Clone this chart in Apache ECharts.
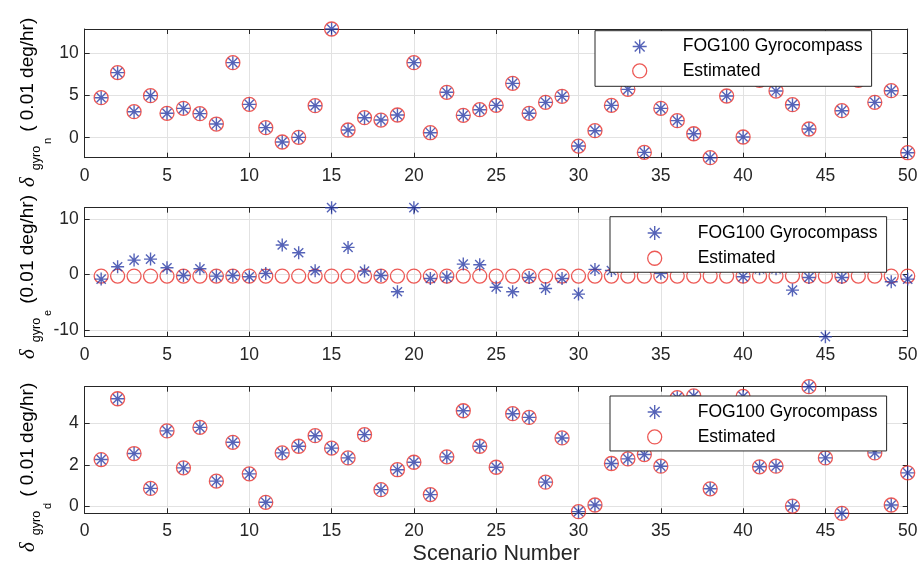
<!DOCTYPE html>
<html>
<head>
<meta charset="utf-8">
<script src="https://cdn.jsdelivr.net/npm/echarts@6/dist/echarts.min.js"></script>
<style>
  html, body { margin: 0; padding: 0; background: #fff; }
  #chart { width: 923px; height: 570px; }
</style>
</head>
<body>
<div id="chart"></div>
<script>
const scenarios = [1, 2, 3, 4, 5, 6, 7, 8, 9, 10, 11, 12, 13, 14, 15, 16, 17, 18, 19, 20, 21, 22, 23, 24, 25,
  26, 27, 28, 29, 30, 31, 32, 33, 34, 35, 36, 37, 38, 39, 40, 41, 42, 43, 44, 45, 46, 47, 48, 49, 50];

// north gyro bias
const fogN = [4.74, 7.71, 3.08, 4.98, 2.89, 3.48, 2.85, 1.62, 8.89, 3.95, 1.19, -0.51, 0.04, 3.79, 12.88,
  0.91, 2.37, 2.09, 2.69, 8.89, 0.59, 5.38, 2.65, 3.32, 3.83, 6.44, 2.89, 4.19, 4.90, -0.99, 0.83, 3.83,
  5.73, -1.74, 3.48, 2.02, 0.47, -2.37, 4.94, 0.08, 6.8, 5.53, 3.91, 1.03, 7.5, 3.2, 6.8, 4.19, 5.57, -1.78];
const estN = [4.74, 7.71, 3.08, 4.98, 2.89, 3.48, 2.85, 1.62, 8.89, 3.95, 1.19, -0.51, 0.04, 3.79, 12.88,
  0.91, 2.37, 2.09, 2.69, 8.89, 0.59, 5.38, 2.65, 3.32, 3.83, 6.44, 2.89, 4.19, 4.90, -0.99, 0.83, 3.83,
  5.73, -1.74, 3.48, 2.02, 0.47, -2.37, 4.94, 0.08, 6.8, 5.53, 3.91, 1.03, 7.5, 3.2, 6.8, 4.19, 5.57, -1.78];

// east gyro bias
const fogE = [-0.84, 1.38, 2.58, 2.76, 1.2, -0.18, 1.02, -0.3, -0.18, -0.42, 0.18, 5.29, 3.9, 0.66, 12.0,
  4.86, 0.6, -0.18, -3.12, 12.0, -0.72, -0.48, 1.86, 1.75, -2.3, -3.12, -0.54, -2.52, -0.72, -3.54, 0.9, 0.7,
  2.2, 1.8, 0.2, 2.5, 1.6, 2.0, 1.7, -0.42, 1.0, 1.0, -2.82, -0.54, -11.2, -0.54, 2.0, 1.8, -1.32, -0.84];
const estE = [-0.3, -0.3, -0.3, -0.3, -0.3, -0.3, -0.3, -0.3, -0.3, -0.3, -0.3, -0.3, -0.3, -0.3, -0.3,
  -0.3, -0.3, -0.3, -0.3, -0.3, -0.3, -0.3, -0.3, -0.3, -0.3, -0.3, -0.3, -0.3, -0.3, -0.3, -0.3, -0.3,
  -0.3, -0.3, -0.3, -0.3, -0.3, -0.3, -0.3, -0.3, -0.3, -0.3, -0.3, -0.3, -0.3, -0.3, -0.3, -0.3, -0.3, -0.3];

// down gyro bias
const fogD = [2.27, 5.2, 2.56, 0.88, 3.65, 1.87, 3.82, 1.23, 3.1, 1.58, 0.21, 2.59, 2.91, 3.42, 2.82,
  2.35, 3.47, 0.82, 1.78, 2.14, 0.58, 2.4, 4.62, 2.91, 1.9, 4.48, 4.3, 1.18, 3.31, -0.24, 0.08, 2.08,
  2.3, 2.51, 1.95, 5.25, 5.34, 0.86, 4.0, 5.31, 1.92, 1.95, 0.03, 5.78, 2.35, -0.32, 3.5, 2.59, 0.08, 1.63];
const estD = [2.27, 5.2, 2.56, 0.88, 3.65, 1.87, 3.82, 1.23, 3.1, 1.58, 0.21, 2.59, 2.91, 3.42, 2.82,
  2.35, 3.47, 0.82, 1.78, 2.14, 0.58, 2.4, 4.62, 2.91, 1.9, 4.48, 4.3, 1.18, 3.31, -0.24, 0.08, 2.08,
  2.3, 2.51, 1.95, 5.25, 5.34, 0.86, 4.0, 5.31, 1.92, 1.95, 0.03, 5.78, 2.35, -0.32, 3.5, 2.59, 0.08, 1.63];

const yTicksN = [0, 5, 10];
const yTicksE = [-10, 0, 10];
const yTicksD = [0, 2, 4];
const seriesNames = ["FOG100 Gyrocompass", "Estimated"];
const xName = "Scenario Number";
const unitN = "( 0.01 deg/hr)";
const unitE = "(0.01 deg/hr)";
const unitD = "( 0.01 deg/hr)";

(function () {
  const chart = echarts.init(document.getElementById("chart"));
  const sans = "'Liberation Sans', Arial, Helvetica, sans-serif";
  const serif = "'Liberation Serif', 'DejaVu Serif', serif";
  const axisColor = "#262626";
  const gridColor = "#e2e2e2";
  const blue = "#2a3ca6";
  const red = "#e8302a";
  const star = "path://M0,-10L0,10M-10,0L10,0M-7.07,-7.07L7.07,7.07M-7.07,7.07L7.07,-7.07";

  const panels = [
    { fog: fogN, est: estN, ticks: yTicksN, sub: "n", unit: unitN, top: 29, height: 128.7, labelEnd: 187,
      legendLeft: 595, legendTop: 30.7, pad: [6.75, 9, 6.35, 37], gap: 6.5 },
    { fog: fogE, est: estE, ticks: yTicksE, sub: "e", unit: unitE, top: 207.7, height: 129, labelEnd: 359,
      legendLeft: 610, legendTop: 216.7, pad: [7.35, 9, 5, 37], gap: 7.2 },
    { fog: fogD, est: estD, ticks: yTicksD, sub: "d", unit: unitD, top: 386.7, height: 126.6, labelEnd: 552,
      legendLeft: 610, legendTop: 396, pad: [7.05, 9, 5, 37], gap: 6.9 }
  ];

  const measureCtx = document.createElement("canvas").getContext("2d");
  function textWidth(text, size, family, style) {
    measureCtx.font = (style || "normal") + " " + size + "px " + family;
    return measureCtx.measureText(text).width;
  }

  // rotated y label: delta with nested subscripts, then the unit
  function yLabel(p) {
    const pieces = [
      { text: "δ", size: 21, family: serif, style: "italic", dy: 0, gap: 7 },
      { text: "gyro", size: 12.5, family: sans, style: "normal", dy: 8.5, gap: 2 },
      { text: p.sub, size: 11, family: sans, style: "normal", dy: 20, gap: 6 },
      { text: p.unit, size: 19, family: sans, style: "normal", dy: 0, gap: 0 }
    ];
    let pos = 0;
    const children = pieces.map(function (pc) {
      const el = {
        type: "text", x: pos, y: pc.dy,
        style: {
          text: pc.text, fontSize: pc.size, fontFamily: pc.family, fontStyle: pc.style,
          fill: "#000", align: "left", verticalAlign: "middle"
        }
      };
      pos += textWidth(pc.text, pc.size, pc.family, pc.style) + pc.gap;
      return el;
    });
    return { type: "group", x: 28, y: p.labelEnd, rotation: Math.PI / 2, silent: true, children: children };
  }

  function pairs(values) {
    return values.map(function (v, i) { return [scenarios[i], v]; });
  }

  const grids = [];
  const xAxes = [];
  const yAxes = [];
  const series = [];
  const legends = [];
  const graphics = [];

  panels.forEach(function (p, gi) {
    const all = p.fog.concat(p.est);
    const lo = Math.min.apply(null, all);
    const hi = Math.max.apply(null, all);

    grids.push({ left: 84.7, right: 15.3, top: p.top, height: p.height, outerBoundsMode: "none" });

    xAxes.push({
      type: "value", gridIndex: gi, min: 0, max: 50, interval: 5, position: "bottom",
      axisLine: { show: true, onZero: false, lineStyle: { color: axisColor, width: 1 } },
      axisTick: { inside: true, length: 5, lineStyle: { color: axisColor } },
      axisLabel: { color: axisColor, fontSize: 17.5, fontFamily: sans, margin: 9, showMinLabel: true, showMaxLabel: true },
      splitLine: { show: true, lineStyle: { color: gridColor, width: 1 } },
      name: gi === 2 ? xName : "",
      nameLocation: "middle",
      nameGap: 30,
      nameTextStyle: { color: axisColor, fontSize: 21.5, fontFamily: sans }
    });
    xAxes.push({
      type: "value", gridIndex: gi, min: 0, max: 50, interval: 5, position: "top",
      axisLine: { show: true, onZero: false, lineStyle: { color: axisColor, width: 1 } },
      axisTick: { inside: true, length: 5, lineStyle: { color: axisColor } },
      axisLabel: { show: false },
      splitLine: { show: false }
    });

    yAxes.push({
      type: "value", gridIndex: gi, min: lo, max: hi, position: "left",
      axisLine: { show: true, onZero: false, lineStyle: { color: axisColor, width: 1 } },
      axisTick: { inside: true, length: 5, customValues: p.ticks, lineStyle: { color: axisColor } },
      axisLabel: { color: axisColor, fontSize: 17.5, fontFamily: sans, margin: 6, customValues: p.ticks },
      splitLine: { show: true, lineStyle: { color: gridColor, width: 1 } }
    });
    yAxes.push({
      type: "value", gridIndex: gi, min: lo, max: hi, position: "right",
      axisLine: { show: true, onZero: false, lineStyle: { color: axisColor, width: 1 } },
      axisTick: { inside: true, length: 5, customValues: p.ticks, lineStyle: { color: axisColor } },
      axisLabel: { show: false },
      splitLine: { show: false }
    });

    series.push({
      name: seriesNames[0], type: "scatter", xAxisIndex: gi * 2, yAxisIndex: gi * 2,
      data: pairs(p.fog), symbol: star, symbolSize: 13, symbolKeepAspect: true,
      itemStyle: { color: blue, borderColor: blue, borderWidth: 1.4 },
      z: 3
    });
    series.push({
      name: seriesNames[1], type: "scatter", xAxisIndex: gi * 2, yAxisIndex: gi * 2,
      data: pairs(p.est), symbol: "circle", symbolSize: 14,
      itemStyle: { color: "rgba(0,0,0,0)", borderColor: red, borderWidth: 1.3 },
      z: 2
    });

    legends.push({
      orient: "vertical", left: p.legendLeft, top: p.legendTop, padding: p.pad,
      itemWidth: 14, itemHeight: 14, itemGap: p.gap, selectedMode: false,
      backgroundColor: "#fff", borderColor: axisColor, borderWidth: 1, borderRadius: 0,
      symbolKeepAspect: true,
      textStyle: { fontSize: 17.5, fontFamily: sans, color: "#000", lineHeight: 14, padding: [0, 0, 0, 31] },
      data: [
        { name: seriesNames[0], icon: star, itemStyle: { color: blue, borderColor: blue, borderWidth: 1.4 } },
        { name: seriesNames[1], icon: "circle", itemStyle: { color: "rgba(0,0,0,0)", borderColor: red, borderWidth: 1.3 } }
      ]
    });

    graphics.push(yLabel(p));
  });

  chart.setOption({
    animation: false,
    grid: grids,
    xAxis: xAxes,
    yAxis: yAxes,
    legend: legends,
    graphic: graphics,
    series: series
  });
})();
</script>
</body>
</html>
